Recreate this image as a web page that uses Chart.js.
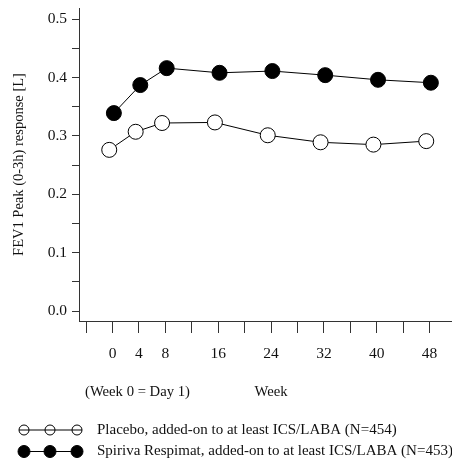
<!DOCTYPE html>
<html>
<head>
<meta charset="utf-8">
<script src="https://cdn.jsdelivr.net/npm/chart.js@4/dist/chart.umd.min.js"></script>
<style>
html,body{margin:0;padding:0;background:#fff;}
#wrap{width:452px;height:459px;position:relative;}
</style>
</head>
<body>
<div id="wrap"><canvas id="c" width="452" height="459"></canvas></div>
<script>
// ---- data ----
const weeks = [0, 4, 8, 16, 24, 32, 40, 48];
const placebo = [0.276, 0.307, 0.322, 0.323, 0.301, 0.289, 0.285, 0.291];
const spiriva = [0.339, 0.387, 0.416, 0.408, 0.411, 0.404, 0.396, 0.391];
const xTickValues = [-4, 0, 4, 8, 12, 16, 20, 24, 28, 32, 36, 40, 44, 48];
const xTickLabels = [0, 4, 8, 16, 24, 32, 40, 48];
const yTickValues = [0, 0.05, 0.1, 0.15, 0.2, 0.25, 0.3, 0.35, 0.4, 0.45, 0.5];
const yTickLabels = [0, 0.1, 0.2, 0.3, 0.4, 0.5];
const seriesNames = [
  'Placebo, added-on to at least ICS/LABA (N=454)',
  'Spiriva Respimat, added-on to at least ICS/LABA (N=453)'
];
const yTitle = 'FEV1 Peak (0-3h) response [L]';
const xNote = '(Week 0 = Day 1)';
const xTitle = 'Week';

// ---- style ----
const FONT = '"Liberation Serif", "Times New Roman", serif';
const AXIS = '#333';
const placeboShift = -0.5, spirivaShift = 0.2;   // small horizontal dodge (weeks)

const mk = (vals, shift) => weeks.map((w, i) => ({x: w + shift, y: vals[i]}));

const legendPlugin = {
  id: 'customLegend',
  afterDraw(chart) {
    const ctx = chart.ctx;
    const xs = chart.scales.x;
    ctx.save();
    // x-axis texts
    ctx.font = '14.7px ' + FONT;
    ctx.fillStyle = '#111';
    ctx.textBaseline = 'middle';
    ctx.textAlign = 'left';
    ctx.fillText(xNote, 85, 392);
    ctx.textAlign = 'center';
    ctx.fillText(xTitle, xs.getPixelForValue(24), 392);
    // legend
    ctx.font = '15px ' + FONT;
    const rows = [430, 451.5];
    chart.data.datasets.forEach((ds, i) => {
      const y = rows[i];
      const filled = ds.pointBackgroundColor !== '#ffffff';
      const r = filled ? 6 : 5;
      const cx = [24, 50, 77];
      ctx.strokeStyle = '#000';
      ctx.lineWidth = 1;
      cx.forEach(x => {
        ctx.beginPath();
        ctx.arc(x, y, r, 0, Math.PI * 2);
        ctx.fillStyle = filled ? '#000' : '#fff';
        ctx.fill();
        ctx.stroke();
      });
      ctx.beginPath();
      ctx.moveTo(cx[0] - r, y);
      ctx.lineTo(cx[2] + r, y);
      ctx.stroke();
      ctx.fillStyle = '#111';
      ctx.textAlign = 'left';
      ctx.fillText(ds.label, 97, y);
    });
    ctx.restore();
  }
};

new Chart(document.getElementById('c'), {
  type: 'line',
  data: {
    datasets: [
      {
        label: seriesNames[0],
        data: mk(placebo, placeboShift),
        borderColor: '#000', borderWidth: 1,
        pointBackgroundColor: '#ffffff', pointBorderColor: '#000',
        pointBorderWidth: 1, pointRadius: 7.5, tension: 0
      },
      {
        label: seriesNames[1],
        data: mk(spiriva, spirivaShift),
        borderColor: '#000', borderWidth: 1,
        pointBackgroundColor: '#000000', pointBorderColor: '#000',
        pointBorderWidth: 1, pointRadius: 7.5, tension: 0
      }
    ]
  },
  options: {
    responsive: false,
    animation: false,
    layout: {autoPadding: false, padding: {top: 8, right: 0, left: 0, bottom: 0}},
    plugins: {legend: {display: false}, tooltip: {enabled: false}},
    scales: {
      x: {
        type: 'linear',
        min: -5.08, max: 51.4,
        afterBuildTicks: s => { s.ticks = xTickValues.map(v => ({value: v})); },
        afterFit: s => { s.height = 138; s.paddingLeft = 0; s.paddingRight = 0; },
        grid: {drawOnChartArea: false, tickLength: 12, tickColor: AXIS, tickWidth: 1},
        border: {display: true, color: AXIS, width: 1},
        ticks: {
          autoSkip: false, maxRotation: 0, padding: 12,
          color: '#111', font: {family: FONT, size: 15.5},
          callback: v => xTickLabels.includes(v) ? String(v) : ''
        }
      },
      y: {
        type: 'linear',
        min: -0.0171, max: 0.519,
        afterBuildTicks: s => { s.ticks = yTickValues.map(v => ({value: v})); },
        afterFit: s => { s.width = 79; s.paddingTop = 0; s.paddingBottom = 0; },
        grid: {drawOnChartArea: false, tickLength: 7, tickColor: AXIS, tickWidth: 1},
        border: {display: true, color: AXIS, width: 1},
        title: {display: true, text: yTitle, color: '#111', font: {family: FONT, size: 14.5}, padding: {top: 10, bottom: 0}},
        ticks: {
          autoSkip: false, padding: 5,
          color: '#111', font: {family: FONT, size: 15.5},
          callback: v => yTickLabels.some(t => Math.abs(t - v) < 1e-9) ? v.toFixed(1) : ''
        }
      }
    }
  },
  plugins: [legendPlugin]
});
</script>
</body>
</html>
